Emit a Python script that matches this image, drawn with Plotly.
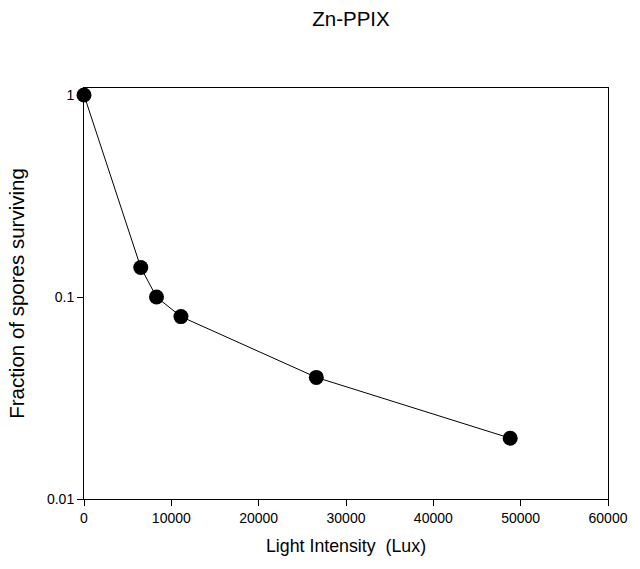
import plotly.graph_objects as go

light_lux = [0, 6500, 8300, 11100, 26600, 48800]
fraction_surviving = [1.0, 0.14, 0.1, 0.08, 0.04, 0.02]
x_tick_vals = [0, 10000, 20000, 30000, 40000, 50000, 60000]
x_tick_text = ["0", "10000", "20000", "30000", "40000", "50000", "60000"]
y_tick_vals = [1, 0.1, 0.01]
y_tick_text = ["1", "0.1", "0.01"]

fig = go.Figure()
fig.add_trace(go.Scatter(
    x=light_lux, y=fraction_surviving, mode="lines+markers",
    line=dict(color="black", width=1),
    marker=dict(color="black", size=15),
    cliponaxis=False, showlegend=False))

font = "Liberation Sans, Arial, sans-serif"
fig.update_layout(
    width=640, height=569,
    margin=dict(l=84, r=20, t=88, b=70),
    paper_bgcolor="white", plot_bgcolor="white",
    font=dict(family=font, color="black", size=14),
    title=dict(text="Zn-PPIX", x=351/640, xanchor="center", xref="container",
               y=1 - 18.5/569, yanchor="middle", yref="container",
               font=dict(size=20.5, family=font)),
)
fig.update_xaxes(
    range=[0, 60000], tickvals=x_tick_vals, ticktext=x_tick_text,
    ticks="outside", ticklen=6,
    tickcolor="black", showline=True, linecolor="black", linewidth=1,
    mirror=True, showgrid=False, zeroline=False,
    tickfont=dict(size=14),
    title=dict(text="Light Intensity  (Lux)", font=dict(size=17.8), standoff=14))
fig.update_yaxes(
    type="log", range=[-2, 0.0347], tickvals=y_tick_vals, ticktext=y_tick_text,
    ticks="outside", ticklen=6, tickcolor="black", showline=True,
    linecolor="black", linewidth=1, mirror=True, showgrid=False, zeroline=False,
    tickfont=dict(size=14),
    title=dict(text="Fraction of spores surviving", font=dict(size=20.5), standoff=16))

fig.write_html("out.html")
